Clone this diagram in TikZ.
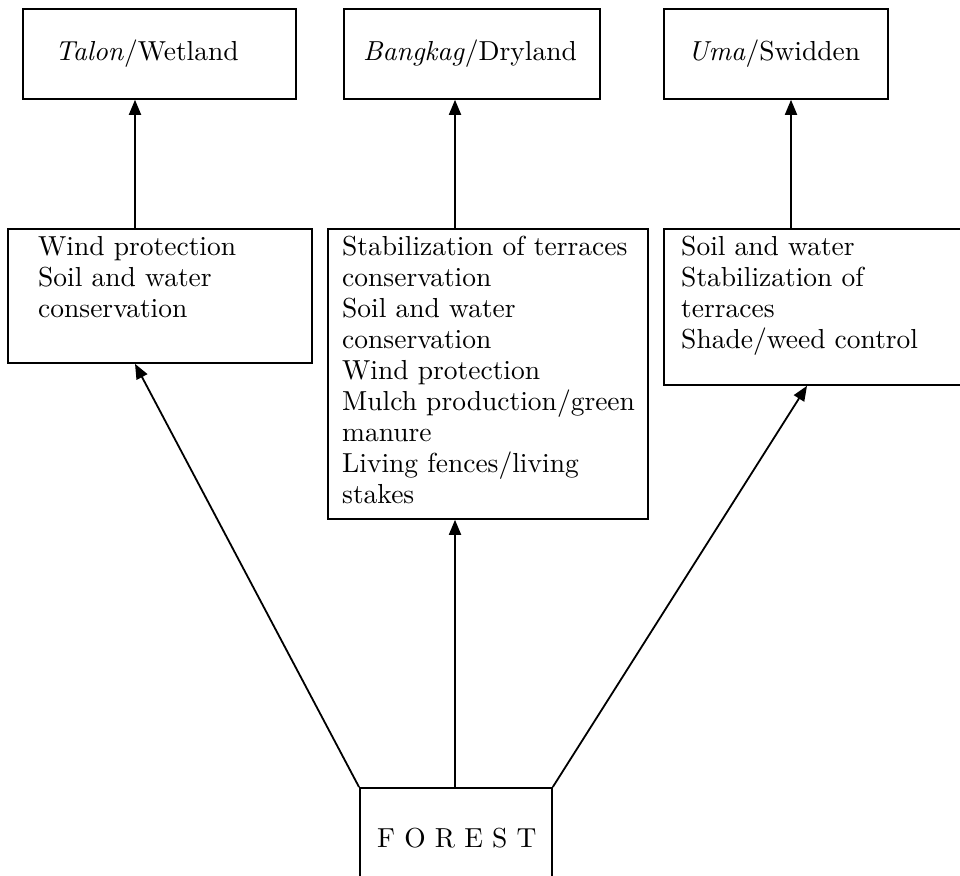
\documentclass[tikz,border=0pt]{standalone}
\usepackage{fontspec}
\setmainfont{lmroman10-regular.otf}[ItalicFont=lmroman10-italic.otf, BoldFont=lmroman10-bold.otf]
\usetikzlibrary{arrows.meta}
\begin{document}
\begin{tikzpicture}[x=1pt,y=-1pt,
  box/.style={draw, line width=1.8pt, inner sep=0pt, anchor=north west},
  txt/.style={inner sep=0pt, anchor=north west, align=left, font=\fontsize{27.5}{31}\selectfont},
  arr/.style={line width=1.8pt, -{Triangle[length=15pt,width=12pt]}},
  ln/.style={line width=1.8pt}]
\useasboundingbox (0,0) rectangle (960,875);
% top boxes
\node[box, minimum width=273pt, minimum height=90pt] (t1) at (22,8) {};
\node[box, minimum width=256pt, minimum height=90pt] (t2) at (343,8) {};
\node[box, minimum width=224pt, minimum height=90pt] (t3) at (663,8) {};
% middle boxes
\node[box, minimum width=304pt, minimum height=134pt] (m1) at (7,228) {};
\node[box, minimum width=320pt, minimum height=290pt] (m2) at (327,228) {};
\node[box, minimum width=300pt, minimum height=156pt] (m3) at (663,228) {};
% forest
\node[box, minimum width=192pt, minimum height=100pt] (f) at (359,787) {};
% texts
\node[txt] (t1t) at (55,40) {\textit{Talon}/Wetland};
\node[txt] (t2t) at (363,40) {\textit{Bangkag}/Dryland};
\node[txt] (t3t) at (688,40) {\textit{Uma}/Swidden};
\node[txt] (m1t) at (38,236) {Wind protection\\Soil and water\\conservation};
\node[txt] (m2t) at (342,236) {Stabilization of terraces\\conservation\\Soil and water\\conservation\\Wind protection\\Mulch production/green\\manure\\Living fences/living\\stakes};
\node[txt] (m3t) at (681,236) {Soil and water\\Stabilization of\\terraces\\Shade/weed control};
\node[txt] (ft) at (377,828) {F O R E S T};
% coordinates
\coordinate (x1) at (135,0);
\coordinate (x2) at (455,0);
\coordinate (x3) at (791,0);
\coordinate (x4) at (807,0);
% arrows up
\draw[arr] (m1.north -| x1) -- (t1.south -| x1);
\draw[arr] (m2.north -| x2) -- (t2.south -| x2);
\draw[arr] (m3.north -| x3) -- (t3.south -| x3);
\draw[arr] (f.north west) -- (m1.south -| x1);
\draw[arr] (f.north -| x2) -- (m2.south -| x2);
\draw[arr] (f.north east) -- (m3.south -| x4);
\end{tikzpicture}
\end{document}
